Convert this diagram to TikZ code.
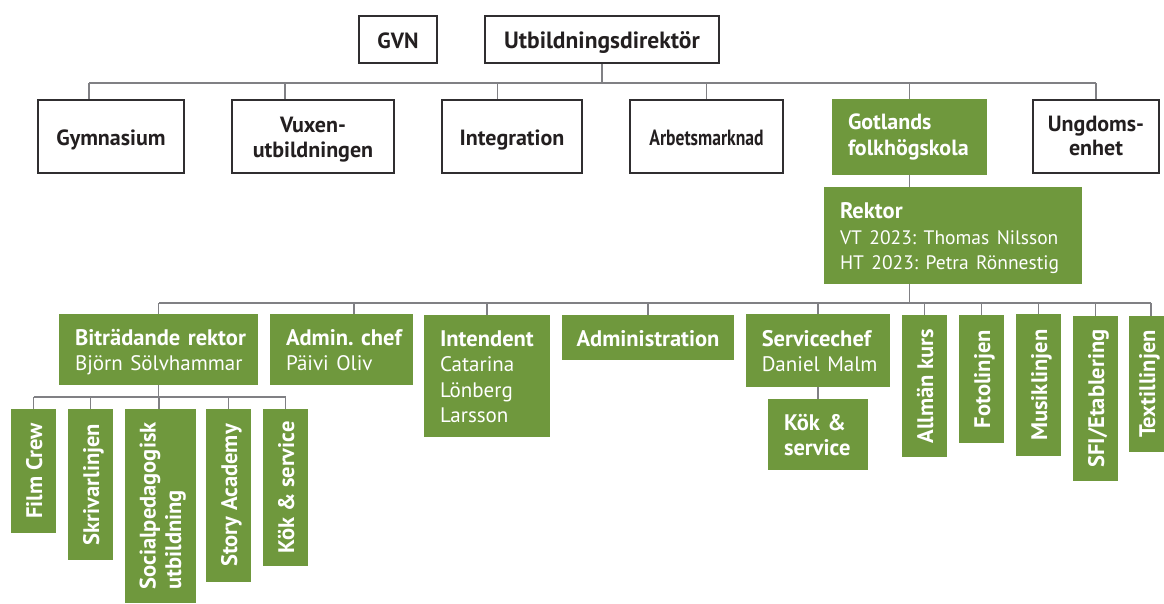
\documentclass[tikz,border=0pt]{standalone}
\usepackage{fontspec}
\setmainfont{PT Sans}
\usepackage{graphicx}
\definecolor{grn}{RGB}{111,152,61}
\definecolor{bordc}{RGB}{48,46,48}
\definecolor{linec}{RGB}{128,128,132}
\definecolor{txtc}{RGB}{35,31,32}
\tikzset{
  wbox/.style={draw=bordc, line width=2pt, fill=white, inner sep=0pt, align=center,
    text=txtc, font=\frenchspacing\bfseries\fontsize{22}{24.5}\selectfont},
  gbox/.style={fill=grn, draw=none, inner sep=0pt, align=center, text=white,
    font=\frenchspacing\bfseries\fontsize{22.5}{25.5}\selectfont},
  gleft/.style={align=left, inner xsep=16pt},
  conn/.style={draw=linec, line width=1.4pt},
}
\newcommand{\rg}{\fontsize{21}{25.5}\selectfont\mdseries}
\newcommand{\rgs}{\fontsize{19.5}{25}\selectfont\mdseries}
\newcommand{\sa}{\rule{0pt}{23.4pt}}
\newcommand{\sd}{\rule[-6pt]{0pt}{6pt}}
\newcommand{\vt}[1]{\rotatebox{90}{\sa#1\sd}}
\begin{document}
\begin{tikzpicture}[x=1pt,y=-1pt]
\useasboundingbox (0,0) rectangle (1164,603);
% top
\node[wbox, minimum width=78, minimum height=47] (gvn) at (398,39.5) {\sa GVN\sd};
\node[wbox, minimum width=234, minimum height=47, font=\bfseries\fontsize{23.5}{25}\selectfont] (ud) at (602,39.5) {\sa Utbildningsdirektör\sd};
% level 1
\node[wbox, minimum width=146, minimum height=73] (gym) at (111,136.5) {\sa Gymnasium\sd};
\node[wbox, minimum width=162, minimum height=73] (vux) at (313,136.5) {\sa Vuxen-\\utbildningen\sd};
\node[wbox, minimum width=140, minimum height=73] (integ) at (512,136.5) {\sa Integration\sd};
\node[wbox, minimum width=153, minimum height=73] (arb) at (706.5,136.5) {\sa\scalebox{0.8}[1]{Arbetsmarknad}\sd};
\node[gbox, gleft, minimum width=155, minimum height=76, text width=123, font=\bfseries\fontsize{22}{25.5}\selectfont] (got) at (909.5,137)
  {\sa\mbox{Gotlands}\\\mbox{folkhögskola}\rule[-12pt]{0pt}{12pt}};
\node[wbox, minimum width=126, minimum height=73] (ung) at (1096,136.5) {\sa Ungdoms-\\enhet\rule[-9pt]{0pt}{9pt}};
% rektor
\node[gbox, gleft, minimum width=258, minimum height=97, text width=226] (rek) at (953,235.5)
  {\sa\mbox{Rektor}\\\mbox{\rgs VT 2023: Thomas Nilsson}\\\mbox{\rgs HT 2023: Petra Rönnestig}\sd};
% level 2
\node[gbox, gleft, minimum width=199, minimum height=71, text width=167] (bit) at (158.5,349.5)
  {\sa\mbox{Biträdande rektor}\\\mbox{\rg Björn Sölvhammar}\sd};
\node[gbox, gleft, minimum width=143, minimum height=71, text width=111] (adm) at (341.5,349.5)
  {\sa\mbox{Admin. chef}\\\mbox{\rg Päivi Oliv}\sd};
\node[gbox, gleft, minimum width=126, minimum height=122, text width=94] (int) at (487,376)
  {\sa\mbox{Intendent}\\\mbox{\rg Catarina}\\\mbox{\rg Lönberg}\\\mbox{\rg Larsson}\sd};
\node[gbox, minimum width=172.5, minimum height=45] (admin) at (648,337.5) {\sa Administration\sd};
\node[gbox, gleft, minimum width=144.5, minimum height=73, text width=112.5] (svc) at (818,350.5)
  {\sa\mbox{Servicechef}\\\mbox{\rg Daniel Malm}\sd};
\node[gbox, gleft, minimum width=100, minimum height=71, text width=68] (kok2) at (818,434.5)
  {\sa\mbox{Kök \&}\\\mbox{service}\sd};
\node[gbox, minimum width=45, minimum height=142] (allm) at (924.5,386) {\vt{Allmän kurs}};
\node[gbox, minimum width=45, minimum height=128] (foto) at (981.5,379) {\vt{Fotolinjen}};
\node[gbox, minimum width=45, minimum height=142] (musik) at (1038.5,385) {\vt{Musiklinjen}};
\node[gbox, minimum width=45, minimum height=165] (sfi) at (1095.5,398.5) {\vt{SFI/Etablering}};
\node[gbox, minimum width=35, minimum height=136] (textil) at (1146.5,384) {\vt{Textillinjen}};
% level 3
\node[gbox, minimum width=45, minimum height=124] (film) at (33.5,471) {\vt{Film Crew}};
\node[gbox, minimum width=45, minimum height=151] (skriv) at (90.5,484.5) {\vt{Skrivarlinjen}};
\node[gbox, minimum width=71, minimum height=194] (soc) at (160.5,506)
  {\rotatebox{90}{\begin{tabular}{@{}l@{}}\sa Socialpedagogisk\\utbildning\sd\end{tabular}}};
\node[gbox, minimum width=45, minimum height=173] (story) at (228.5,495.5) {\vt{Story Academy}};
\node[gbox, minimum width=45, minimum height=157] (kok1) at (285.5,487.5) {\vt{Kök \& service}};
% connectors level 1
\coordinate (b1L) at (89,83);
\coordinate (b1R) at (1096,83);
\draw[conn] (b1L) -- (b1R);
\draw[conn] (ud.south) -- (ud.south |- b1L);
\draw[conn] (b1L) -- (b1L |- gym.north);
\draw[conn] ([xshift=-28pt]vux.north) -- ([xshift=-28pt]vux.north |- b1L);
\draw[conn] ([xshift=-14.5pt]integ.north) -- ([xshift=-14.5pt]integ.north |- b1L);
\draw[conn] (arb.north) -- (arb.north |- b1L);
\draw[conn] (got.north) -- (got.north |- b1L);
\draw[conn] (ung.north) -- (ung.north |- b1L);
% rektor
\draw[conn] (got.south) -- (got.south |- rek.north);
\coordinate (b2L) at (159,303);
\coordinate (b2R) at (1151,303);
\draw[conn] (b2L) -- (b2R);
\draw[conn] (got.south |- rek.south) -- (got.south |- b2L);
\draw[conn] (bit.north) -- (bit.north |- b2L);
\draw[conn] ([xshift=12.5pt]adm.north) -- ([xshift=12.5pt]adm.north |- b2L);
\draw[conn] (int.north) -- (int.north |- b2L);
\draw[conn] (admin.north) -- (admin.north |- b2L);
\draw[conn] (svc.north) -- (svc.north |- b2L);
\draw[conn] (allm.north) -- (allm.north |- b2L);
\draw[conn] (foto.north) -- (foto.north |- b2L);
\draw[conn] (musik.north) -- (musik.north |- b2L);
\draw[conn] (sfi.north) -- (sfi.north |- b2L);
\draw[conn] (b2R) -- (b2R |- textil.north);
\draw[conn] (svc.south) -- (kok2.north);
% level 3
\coordinate (b3L) at (33.5,397);
\coordinate (b3R) at (285.5,397);
\draw[conn] (b3L) -- (b3R);
\draw[conn] (bit.south) -- (bit.south |- b3L);
\draw[conn] (film.north) -- (film.north |- b3L);
\draw[conn] (skriv.north) -- (skriv.north |- b3L);
\draw[conn] ([xshift=-1.5pt]soc.north) -- ([xshift=-1.5pt]soc.north |- b3L);
\draw[conn] (story.north) -- (story.north |- b3L);
\draw[conn] (kok1.north) -- (kok1.north |- b3L);
\end{tikzpicture}
\end{document}
